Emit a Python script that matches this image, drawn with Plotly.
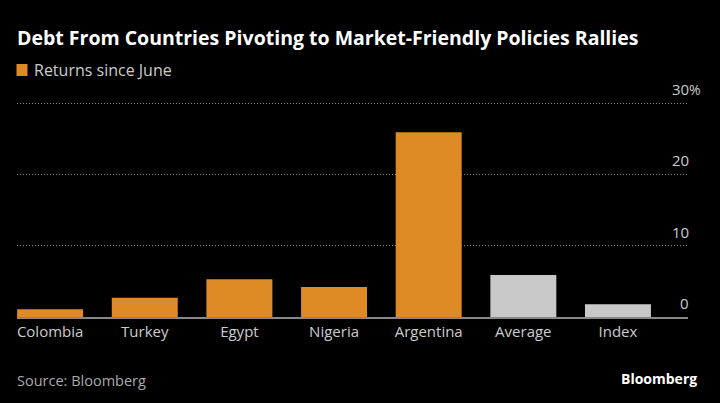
import plotly.graph_objects as go

categories = ["Colombia", "Turkey", "Egypt", "Nigeria", "Argentina", "Average", "Index"]
returns = [1.1, 2.7, 5.3, 4.2, 25.9, 5.9, 1.8]
bar_colors = ["#DE8A26"] * 5 + ["#C8C8C8"] * 2
y_ticks = [0, 10, 20, 30]
y_tick_labels = ["0", "10", "20", "30"]

FONT = "Open Sans"
W, H = 720, 403
L, R, T, B = 16.5, 32, 101, 86
Y_MAX = 30.3

fig = go.Figure()
fig.add_trace(go.Bar(x=categories, y=returns, marker=dict(color=bar_colors, line=dict(width=0)),
                     showlegend=False, hoverinfo="skip"))

def px_to_paper_x(px):
    return (px - L) / (W - L - R)

def px_to_paper_y(py):
    return (H - B - py) / (H - T - B)

annotations = []
for v, t in zip(y_ticks, y_tick_labels):
    annotations.append(dict(x=px_to_paper_x(691), xref="paper", y=v, yref="y", text=t,
                            xanchor="right", yanchor="middle", yshift=14, showarrow=False,
                            font=dict(family=FONT, size=15, color="#CCCCCC")))
annotations.append(dict(x=px_to_paper_x(687), xref="paper", y=30, yref="y", text="%",
                        xanchor="left", yanchor="middle", yshift=14, showarrow=False,
                        font=dict(family=FONT, size=14, color="#CCCCCC")))
# title
annotations.append(dict(x=px_to_paper_x(14), xref="paper", y=px_to_paper_y(37), yref="paper",
                        text="<b>Debt From Countries Pivoting to Market-Friendly Policies Rallies</b>",
                        xanchor="left", yanchor="middle", showarrow=False,
                        font=dict(family=FONT, size=19.5, color="#FFFFFF")))
# legend
annotations.append(dict(x=px_to_paper_x(32), xref="paper", y=px_to_paper_y(70), yref="paper",
                        text="Returns since June", xanchor="left", yanchor="middle", showarrow=False,
                        font=dict(family=FONT, size=16, color="#CCCCCC")))
# source
annotations.append(dict(x=px_to_paper_x(14), xref="paper", y=px_to_paper_y(380), yref="paper",
                        text="Source: Bloomberg", xanchor="left", yanchor="middle", showarrow=False,
                        font=dict(family=FONT, size=14.5, color="#AAAAAA")))
annotations.append(dict(x=px_to_paper_x(699), xref="paper", y=px_to_paper_y(378), yref="paper",
                        text="<b>Bloomberg</b>", xanchor="right", yanchor="middle", showarrow=False,
                        font=dict(family=FONT, size=14, color="#FFFFFF")))

shapes = [dict(type="rect", xref="paper", yref="paper",
               x0=px_to_paper_x(16), x1=px_to_paper_x(27),
               y0=px_to_paper_y(76), y1=px_to_paper_y(64),
               fillcolor="#DE8A26", line=dict(width=0))]

fig.update_layout(
    width=W, height=H,
    margin=dict(l=L, r=R, t=T, b=B, pad=0),
    paper_bgcolor="#000000", plot_bgcolor="#000000",
    bargap=0.303,
    annotations=annotations, shapes=shapes,
    xaxis=dict(range=[-0.35, 6.74], showgrid=False, showline=True, linecolor="#888888",
               linewidth=1.5, ticks="", tickfont=dict(family=FONT, size=15, color="#CCCCCC"),
               fixedrange=True),
    yaxis=dict(range=[0, Y_MAX], tickvals=y_ticks, showticklabels=False, showgrid=True,
               gridcolor="#8A8A8A", griddash="1px,2px", gridwidth=1, zeroline=False, fixedrange=True),
)

fig.write_html("out.html")
